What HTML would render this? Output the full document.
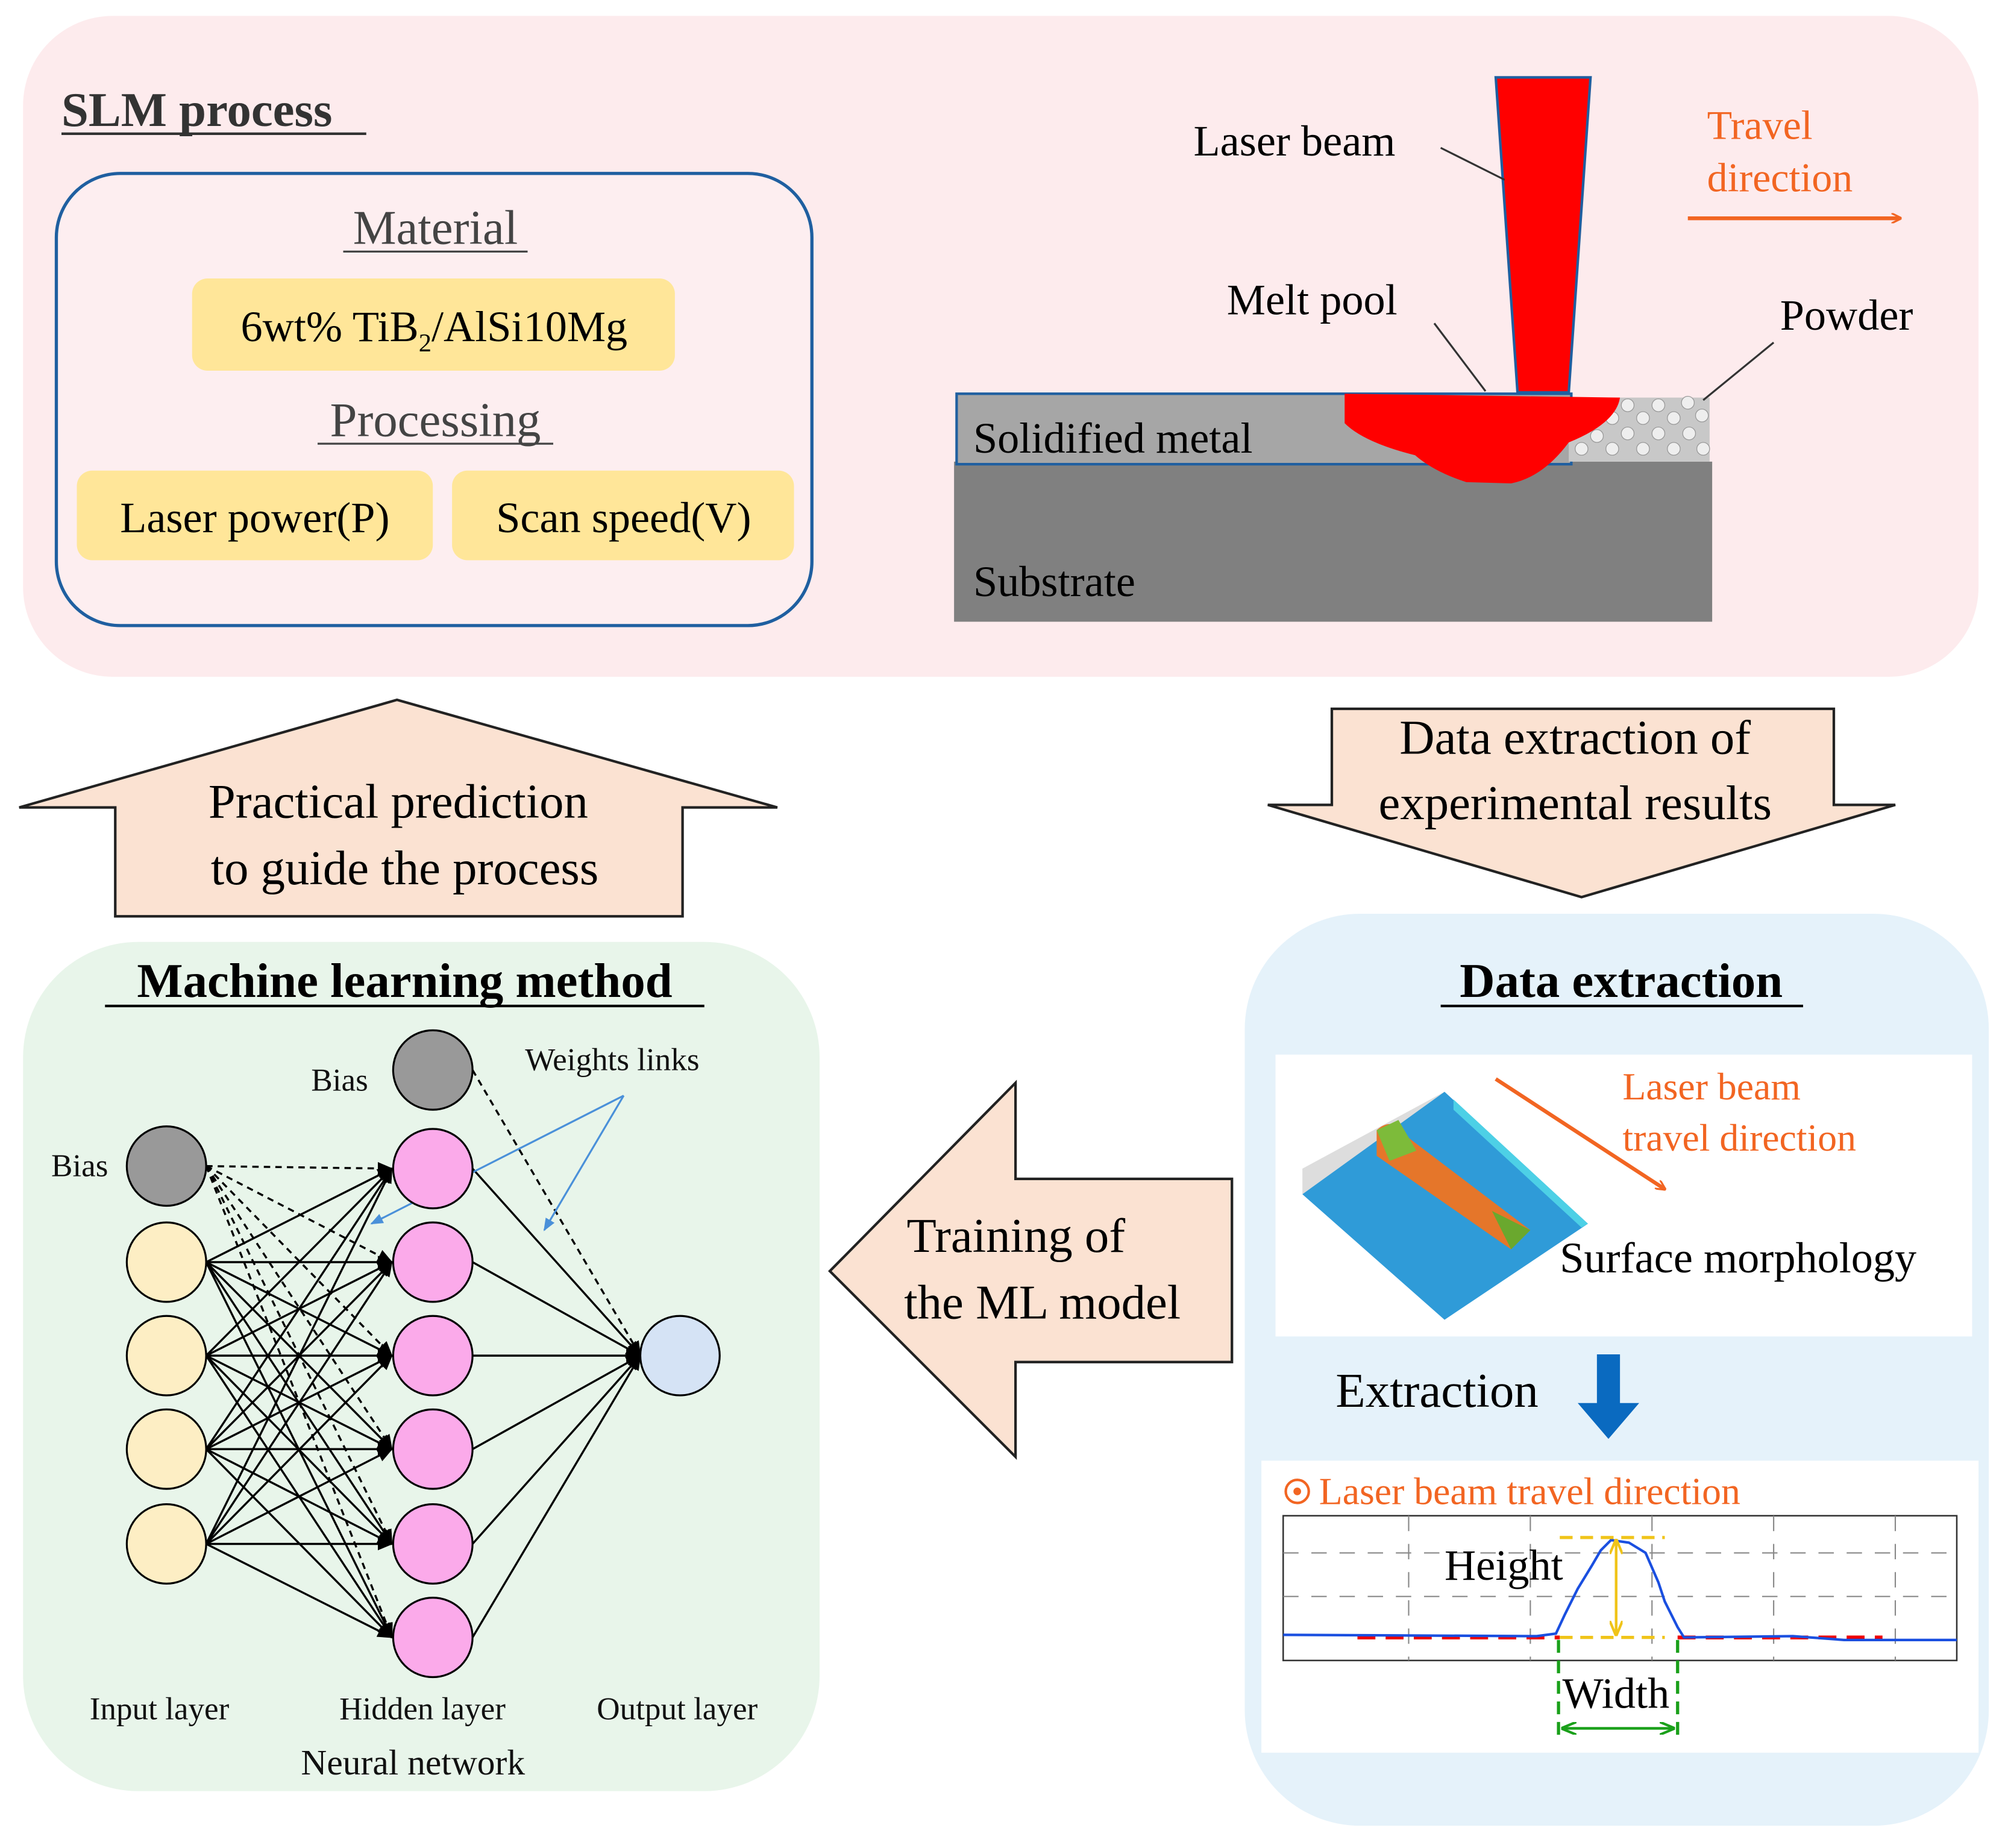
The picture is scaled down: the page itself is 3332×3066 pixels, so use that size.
<!DOCTYPE html>
<html><head><meta charset="utf-8"><style>html,body{margin:0;padding:0;background:#fff}svg{display:block}svg text{font-family:"Liberation Serif","DejaVu Serif",serif}</style></head><body>
<svg width="3332" height="3066" viewBox="0 0 1568 1442" xmlns="http://www.w3.org/2000/svg" style="font-family:'Liberation Serif',serif">
<defs>
<marker id="ao" markerWidth="8" markerHeight="8" refX="7" refY="4" orient="auto" markerUnits="userSpaceOnUse" viewBox="0 0 8 8"><path d="M0,0 L8,4 L0,8" fill="none" stroke="#f26522" stroke-width="1.5"/></marker>
<marker id="ak" markerWidth="12" markerHeight="10" refX="11" refY="5" orient="auto" markerUnits="userSpaceOnUse"><path d="M0,0 L12,5 L0,10 Z" fill="#000"/></marker>
<marker id="ab" markerWidth="10" markerHeight="8" refX="9" refY="4" orient="auto" markerUnits="userSpaceOnUse"><path d="M0,0 L10,4 L0,8 Z" fill="#4a90d9"/></marker>
<marker id="ag" markerWidth="12" markerHeight="10" refX="11" refY="5" orient="auto" markerUnits="userSpaceOnUse"><path d="M0,0 L12,5 L0,10" fill="none" stroke="#1aa01a" stroke-width="2"/></marker>
<marker id="ay" markerWidth="12" markerHeight="10" refX="11" refY="5" orient="auto" markerUnits="userSpaceOnUse"><path d="M0,0 L12,5 L0,10" fill="none" stroke="#f0c419" stroke-width="2"/></marker>
</defs>
<rect x="18" y="12" width="1527" height="516" rx="70" fill="#fdebed"/>
<text x="48" y="98" font-size="38" font-weight="bold" fill="#333">SLM process</text>
<line x1="48" y1="104" x2="286" y2="104" stroke="#333" stroke-width="2"/>
<rect x="44" y="135" width="590" height="353" rx="50" fill="#fdeef0" stroke="#1f5fa0" stroke-width="2.5"/>
<text x="340" y="190" font-size="38" fill="#444" text-anchor="middle">Material</text>
<line x1="268" y1="196" x2="412" y2="196" stroke="#444" stroke-width="1.5"/>
<rect x="150" y="217" width="377" height="72" rx="12" fill="#ffe699"/>
<text x="339" y="266" font-size="34" text-anchor="middle">6wt% TiB<tspan font-size="20" dy="8">2</tspan><tspan dy="-8">/AlSi10Mg</tspan></text>
<text x="340" y="340" font-size="38" fill="#444" text-anchor="middle">Processing</text>
<line x1="248" y1="346" x2="432" y2="346" stroke="#444" stroke-width="1.5"/>
<rect x="60" y="367" width="278" height="70" rx="12" fill="#ffe699"/>
<text x="199" y="415" font-size="34" text-anchor="middle">Laser power(P)</text>
<rect x="353" y="367" width="267" height="70" rx="12" fill="#ffe699"/>
<text x="487" y="415" font-size="34" text-anchor="middle">Scan speed(V)</text>
<rect x="745" y="360" width="592" height="125" fill="#808080"/>
<rect x="747" y="307" width="480" height="55" fill="#a6a6a6" stroke="#1f5fa0" stroke-width="2"/>
<rect x="1225" y="310" width="110" height="50" fill="#c8c8c8"/>
<g fill="#eee" stroke="#999" stroke-width="0.6">
<circle cx="1235" cy="350" r="5"/><circle cx="1247" cy="340" r="5"/><circle cx="1259" cy="350" r="5"/><circle cx="1271" cy="338" r="5"/><circle cx="1283" cy="350" r="5"/><circle cx="1295" cy="338" r="5"/><circle cx="1307" cy="350" r="5"/><circle cx="1319" cy="338" r="5"/><circle cx="1330" cy="350" r="5"/><circle cx="1259" cy="326" r="5"/><circle cx="1283" cy="326" r="5"/><circle cx="1307" cy="326" r="5"/><circle cx="1329" cy="324" r="5"/><circle cx="1271" cy="316" r="5"/><circle cx="1295" cy="316" r="5"/><circle cx="1318" cy="314" r="5"/>
</g>
<path d="M1050,307 L1265,310 Q1262,330 1225,345 Q1205,372 1180,377 L1145,376 Q1120,368 1105,355 Q1065,345 1050,330 Z" fill="#ff0000"/>
<path d="M1168,60 L1242,60 L1225,306 L1185,306 Z" fill="#ff0000" stroke="#1f5fa0" stroke-width="2"/>
<text x="760" y="353" font-size="34">Solidified metal</text>
<text x="760" y="465" font-size="34">Substrate</text>
<text x="932" y="121" font-size="34">Laser beam</text>
<text x="958" y="245" font-size="34">Melt pool</text>
<text x="1390" y="257" font-size="34">Powder</text>
<text x="1333" y="108" font-size="32" fill="#f26522">Travel</text>
<text x="1333" y="149" font-size="32" fill="#f26522">direction</text>
<line x1="1318" y1="170" x2="1484" y2="170" stroke="#f26522" stroke-width="3" marker-end="url(#ao)"/>
<line x1="1125" y1="115" x2="1175" y2="140" stroke="#333" stroke-width="1.5"/>
<line x1="1120" y1="252" x2="1160" y2="305" stroke="#333" stroke-width="1.5"/>
<line x1="1385" y1="267" x2="1330" y2="312" stroke="#333" stroke-width="1.5"/>
<path d="M15,630 L310,546 L607,630 L533,630 L533,715 L90,715 L90,630 Z" fill="#fbe2d2" stroke="#222" stroke-width="2"/>
<text x="311" y="638" font-size="38" text-anchor="middle">Practical prediction</text>
<text x="316" y="690" font-size="38" text-anchor="middle">to guide the process</text>
<path d="M1040,553 L1432,553 L1432,628 L1480,628 L1235,700 L990,628 L1040,628 Z" fill="#fbe2d2" stroke="#222" stroke-width="2"/>
<text x="1230" y="588" font-size="38" text-anchor="middle">Data extraction of</text>
<text x="1230" y="639" font-size="38" text-anchor="middle">experimental results</text>
<path d="M648,992 L793,845 L793,920 L962,920 L962,1063 L793,1063 L793,1137 Z" fill="#fbe2d2" stroke="#222" stroke-width="2"/>
<text x="708" y="977" font-size="38">Training of</text>
<text x="706" y="1029" font-size="38">the ML model</text>
<rect x="18" y="735" width="622" height="663" rx="90" fill="#e8f5ea"/>
<text x="316" y="778" font-size="38" font-weight="bold" text-anchor="middle">Machine learning method</text>
<line x1="82" y1="785" x2="550" y2="785" stroke="#000" stroke-width="2"/>
<g stroke="#000" stroke-width="1.6" fill="none">
<g marker-end="url(#ak)">
<line x1="161" y1="985" x2="306" y2="912"/><line x1="161" y1="985" x2="306" y2="985"/><line x1="161" y1="985" x2="306" y2="1058"/><line x1="161" y1="985" x2="306" y2="1131"/><line x1="161" y1="985" x2="306" y2="1205"/><line x1="161" y1="985" x2="306" y2="1278"/>
<line x1="161" y1="1058" x2="306" y2="912"/><line x1="161" y1="1058" x2="306" y2="985"/><line x1="161" y1="1058" x2="306" y2="1058"/><line x1="161" y1="1058" x2="306" y2="1131"/><line x1="161" y1="1058" x2="306" y2="1205"/><line x1="161" y1="1058" x2="306" y2="1278"/>
<line x1="161" y1="1131" x2="306" y2="912"/><line x1="161" y1="1131" x2="306" y2="985"/><line x1="161" y1="1131" x2="306" y2="1058"/><line x1="161" y1="1131" x2="306" y2="1131"/><line x1="161" y1="1131" x2="306" y2="1205"/><line x1="161" y1="1131" x2="306" y2="1278"/>
<line x1="161" y1="1205" x2="306" y2="912"/><line x1="161" y1="1205" x2="306" y2="985"/><line x1="161" y1="1205" x2="306" y2="1058"/><line x1="161" y1="1205" x2="306" y2="1131"/><line x1="161" y1="1205" x2="306" y2="1205"/><line x1="161" y1="1205" x2="306" y2="1278"/>
<line x1="369" y1="912" x2="500" y2="1058"/><line x1="369" y1="985" x2="500" y2="1058"/><line x1="369" y1="1058" x2="500" y2="1058"/><line x1="369" y1="1131" x2="500" y2="1058"/><line x1="369" y1="1205" x2="500" y2="1058"/><line x1="369" y1="1278" x2="500" y2="1058"/>
</g>
<g stroke-dasharray="5,4" marker-end="url(#ak)">
<line x1="161" y1="910" x2="306" y2="912"/><line x1="161" y1="910" x2="306" y2="985"/><line x1="161" y1="910" x2="306" y2="1058"/><line x1="161" y1="910" x2="306" y2="1131"/><line x1="161" y1="910" x2="306" y2="1205"/><line x1="161" y1="910" x2="306" y2="1278"/>
<line x1="369" y1="835" x2="500" y2="1058"/>
</g>
</g>
<line x1="487" y1="855" x2="290" y2="955" stroke="#4a90d9" stroke-width="1.5" marker-end="url(#ab)"/>
<line x1="487" y1="855" x2="425" y2="960" stroke="#4a90d9" stroke-width="1.5" marker-end="url(#ab)"/>
<g stroke="#000" stroke-width="1.5">
<circle cx="130" cy="910" r="31" fill="#999"/>
<circle cx="130" cy="985" r="31" fill="#fdeec4"/><circle cx="130" cy="1058" r="31" fill="#fdeec4"/><circle cx="130" cy="1131" r="31" fill="#fdeec4"/><circle cx="130" cy="1205" r="31" fill="#fdeec4"/>
<circle cx="338" cy="835" r="31" fill="#999"/>
<circle cx="338" cy="912" r="31" fill="#fbaaea"/><circle cx="338" cy="985" r="31" fill="#fbaaea"/><circle cx="338" cy="1058" r="31" fill="#fbaaea"/><circle cx="338" cy="1131" r="31" fill="#fbaaea"/><circle cx="338" cy="1205" r="31" fill="#fbaaea"/><circle cx="338" cy="1278" r="31" fill="#fbaaea"/>
<circle cx="531" cy="1058" r="31" fill="#d5e3f5"/>
</g>
<g font-size="25" fill="#111">
<text x="40" y="918">Bias</text><text x="243" y="851">Bias</text><text x="410" y="835">Weights links</text>
<text x="70" y="1342">Input layer</text><text x="265" y="1342">Hidden layer</text><text x="466" y="1342">Output layer</text>
<text x="235" y="1385" font-size="28">Neural network</text>
</g>
<rect x="972" y="713" width="581" height="712" rx="90" fill="#e5f2fa"/>
<text x="1266" y="778" font-size="38" font-weight="bold" text-anchor="middle">Data extraction</text>
<line x1="1125" y1="785" x2="1408" y2="785" stroke="#000" stroke-width="2"/>
<rect x="996" y="823" width="544" height="220" fill="#fff"/>
<path d="M1128,832 L1128,852 L1017,912 L1017,932 L1128,858 Z" fill="#ddd"/>
<path d="M1128,852 L1240,955 L1128,1030 L1017,932 Z" fill="#2f9bd8"/>
<path d="M1135,858 L1240,955 L1235,958 L1135,866 Z" fill="#4dd0e6"/>
<path d="M1075,882 Q1088,870 1100,888 L1195,960 L1180,975 L1075,902 Z" fill="#e5762a"/>
<path d="M1075,882 L1092,874 L1106,898 L1085,906 Z" fill="#7dbb3a"/>
<path d="M1165,945 L1195,960 L1180,975 Z" fill="#6aa82e"/>
<line x1="1168" y1="842" x2="1300" y2="928" stroke="#f26522" stroke-width="3" marker-end="url(#ao)"/>
<text x="1267" y="858" font-size="30" fill="#f26522">Laser beam</text>
<text x="1267" y="898" font-size="30" fill="#f26522">travel direction</text>
<text x="1218" y="993" font-size="34">Surface morphology</text>
<text x="1043" y="1098" font-size="38">Extraction</text>
<path d="M1247,1057 L1265,1057 L1265,1095 L1280,1095 L1256,1123 L1232,1095 L1247,1095 Z" fill="#0a6ac0"/>
<rect x="985" y="1140" width="560" height="228" fill="#fff"/>
<circle cx="1013" cy="1164" r="9" fill="none" stroke="#f26522" stroke-width="2"/><circle cx="1013" cy="1164" r="3" fill="#f26522"/>
<text x="1030" y="1174" font-size="30" fill="#f26522">Laser beam travel direction</text>
<rect x="1002" y="1183" width="526" height="113" fill="#fff" stroke="#333" stroke-width="1.2"/>
<g stroke="#888" stroke-width="1" stroke-dasharray="12,10">
<line x1="1002" y1="1212" x2="1528" y2="1212"/><line x1="1002" y1="1246" x2="1528" y2="1246"/>
<line x1="1100" y1="1183" x2="1100" y2="1296"/><line x1="1195" y1="1183" x2="1195" y2="1296"/><line x1="1290" y1="1183" x2="1290" y2="1296"/><line x1="1385" y1="1183" x2="1385" y2="1296"/><line x1="1480" y1="1183" x2="1480" y2="1296"/>
</g>
<line x1="1060" y1="1278" x2="1218" y2="1278" stroke="#e00" stroke-width="3" stroke-dasharray="14,8"/>
<line x1="1310" y1="1278" x2="1470" y2="1278" stroke="#e00" stroke-width="3" stroke-dasharray="14,8"/>
<path d="M1002,1276 L1200,1277 L1215,1275 L1222,1260 L1232,1240 L1243,1222 L1250,1210 L1258,1202 L1272,1204 L1285,1212 L1295,1235 L1300,1250 L1310,1270 L1315,1278 L1400,1277 L1440,1280 L1528,1280" fill="none" stroke="#1a4fe0" stroke-width="2"/>
<line x1="1218" y1="1200" x2="1300" y2="1200" stroke="#f0c419" stroke-width="2.5" stroke-dasharray="10,6"/>
<line x1="1218" y1="1278" x2="1300" y2="1278" stroke="#f0c419" stroke-width="2.5" stroke-dasharray="10,6"/>
<line x1="1262" y1="1202" x2="1262" y2="1276" stroke="#f0c419" stroke-width="2" marker-end="url(#ay)"/>
<line x1="1262" y1="1276" x2="1262" y2="1202" stroke="#f0c419" stroke-width="2" marker-end="url(#ay)"/>
<text x="1128" y="1233" font-size="34">Height</text>
<line x1="1217" y1="1280" x2="1217" y2="1358" stroke="#1aa01a" stroke-width="2.5" stroke-dasharray="10,6"/>
<line x1="1310" y1="1280" x2="1310" y2="1358" stroke="#1aa01a" stroke-width="2.5" stroke-dasharray="10,6"/>
<line x1="1220" y1="1349" x2="1307" y2="1349" stroke="#1aa01a" stroke-width="2" marker-end="url(#ag)"/>
<line x1="1307" y1="1349" x2="1220" y2="1349" stroke="#1aa01a" stroke-width="2" marker-end="url(#ag)"/>
<text x="1220" y="1333" font-size="34">Width</text>
</svg>
</body></html>
